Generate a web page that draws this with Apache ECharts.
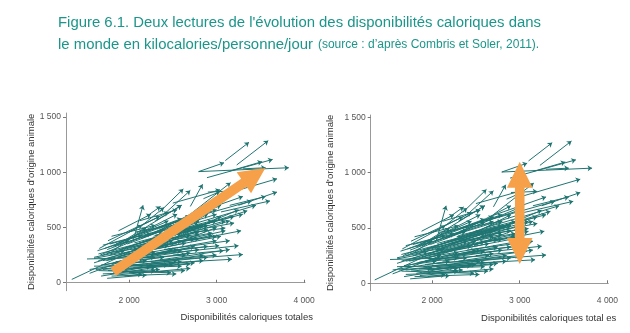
<!DOCTYPE html>
<html><head><meta charset="utf-8">
<script src="https://cdn.jsdelivr.net/npm/echarts@6/dist/echarts.min.js"></script>
<style>html,body{margin:0;padding:0;background:#fff}#c{width:630px;height:333px}</style>
</head><body><div id="c"></div>
<script>
// Arrows: [x1961, y1961, x2003, y2003] (kcal/pers/day: total, animal origin)
const arrows = [
  [3100,1105,3370,1270],[3230,1065,3590,1285],[2795,1005,3085,1085],[2795,1005,3825,1040],
  [2890,950,3640,1115],[3150,1010,3520,1095],[3300,1030,3560,1040],[3000,780,3690,940],
  [3250,700,3690,820],[3050,640,3610,740],[3150,700,3560,780],[2700,620,3160,905],
  [2700,690,2840,890],[2350,640,2620,848],[2400,620,2700,835],[2850,760,3040,825],
  [2050,390,2160,700],[2200,600,2360,690],[2300,560,2600,700],[2500,720,3040,840],
  [2900,820,3200,830],
  [2700,450,3100,495],[2600,380,3000,420],[2250,250,3250,335],[2050,180,3300,255],
  [2000,160,3175,212],[2400,350,3050,600],[2550,420,3250,660],[2450,430,3350,650],
  [2600,500,3450,700],[2300,430,2950,560],[2200,360,2900,520],[2550,300,3030,335],
  [2150,330,2800,460],
  [1700,80,2640,110],[1800,60,2540,80],[1650,110,2480,90],[1900,100,2350,120],
  [1750,40,2200,70],[1850,130,2600,150],[1600,150,2450,160],[2000,90,2300,110],
  [1950,60,2150,80],[1700,120,2000,140],
  [1346,30,2150,330],[1520,215,2300,230],[1670,250,2250,450],[1550,85,2100,250],
  [1600,180,2400,380],[1650,200,2700,430],[1700,250,2550,470],[1720,160,2300,280],
  [1750,300,2600,550],[1780,220,2650,360],[1800,280,2200,500],[1820,180,2500,300],
  [1850,350,2450,560],[1880,240,2750,400],[1900,300,2350,420],[1920,200,2800,300],
  [1950,380,2550,620],[1980,260,2450,340],[2000,320,2900,480],[2020,220,2650,250],
  [2050,420,2700,600],[2080,280,2500,380],[2100,350,2850,520],[2120,200,2700,270],
  [2150,450,2600,580],[2180,300,2950,430],[2200,250,2600,290],[2220,380,3000,560],
  [2250,180,2900,230],[2280,420,2750,500],[2300,330,3100,470],[2350,270,2900,330],
  [2400,200,2850,250],[2450,380,2950,450],[1700,340,2150,430],[1760,380,2350,600],
  [1800,420,2300,520],[1640,290,2000,380],[1900,150,2550,200],[1950,120,2700,170],
  [2050,140,2850,200],[1850,190,2400,230],[2100,240,2550,300],[2000,460,2450,640],
  [2150,520,2400,680],[1880,470,2250,620],[2250,480,2800,620],[2350,500,3000,660],
  [1750,270,2100,310],[1600,230,1950,290],[1680,160,2050,200],[2400,300,3150,380],
  [2500,250,3080,290],[1980,350,2380,470],[2200,150,2500,170],
  [1600,220,2800,400],[1650,260,2900,520],[1700,200,3000,380],[1720,310,2700,600],
  [1780,250,2600,450],[1820,330,3000,620],[1860,280,2800,560],[1900,360,2600,700],
  [1940,300,3100,560],[1960,230,2600,380],[2000,260,3050,420],[2040,300,2700,480],
  [2060,360,3200,600],[2100,300,2900,620],[2140,400,3050,700],[2180,420,2700,560],
  [2240,340,3150,560],[2260,440,2900,700],[2320,380,2800,440],[2380,420,3200,540],
  [2420,450,2800,520],[2480,340,3000,500],[2520,460,3300,620],[2600,560,3400,740],
  [2650,600,3300,780],[1550,120,2200,200],[1620,120,2600,190],[1680,60,2300,140],
  [1760,110,2750,180],[1820,90,2250,150],[1860,70,2700,130],[1920,170,3000,250],
  [2000,200,2750,330],[1740,200,2100,260],[1780,350,2400,480],[1660,310,2150,520],
  [2080,460,2800,560],[2120,560,2550,660],[2300,200,3150,300],[2700,380,3280,470]
];
// Big orange arrows (data coordinates)
const trendArrow = [[1820,100],[3557,1037]];
const spreadArrow = [[3000,174],[3000,1098]];

const xTickValues = [2000,3000,4000];
const xTickLabels = ['2 000','3 000','4 000'];
const yTickValues = [0,500,1000,1500];
const yTickLabels = ['0','500','1 000','1 500'];

const TEAL = '#1f7572', ORANGE = '#f6a04a', TITLE = '#1b968a';
const sans = '"Liberation Sans", Arial, sans-serif';

function xAxis(idx, min, max, name) {
  return {
    gridIndex: idx, type: 'value', min, max,
    name, nameLocation: 'end', nameGap: 8, nameMoveOverlap: false,
    nameTextStyle: {align: 'right', verticalAlign: 'top', padding: [30,0,0,0], fontFamily: sans, fontSize: 9.5, color: '#333'},
    axisLine: {show: true, lineStyle: {color: '#999', width: 1}},
    axisTick: {show: true, inside: true, length: 3, customValues: xTickValues, lineStyle: {color: '#777'}},
    axisLabel: {customValues: xTickValues, margin: 5, fontFamily: sans, fontSize: 8.5, color: '#555',
      formatter: v => xTickLabels[xTickValues.indexOf(v)]},
    splitLine: {show: false}
  };
}
function yAxis(idx, min, max, gap) {
  return {
    gridIndex: idx, type: 'value', min, max,
    name: "Disponibilités caloriques d’origine animale", nameLocation: 'middle', nameGap: gap, nameRotate: 90, nameMoveOverlap: false,
    nameTextStyle: {fontFamily: sans, fontSize: 9.5, color: '#333'},
    axisLine: {show: true, lineStyle: {color: '#999', width: 1}},
    axisTick: {show: true, length: 3, customValues: yTickValues, lineStyle: {color: '#777'}},
    axisLabel: {customValues: yTickValues, margin: 5, fontFamily: sans, fontSize: 8.5, color: '#555',
      formatter: v => yTickLabels[yTickValues.indexOf(v)]},
    splitLine: {show: false}
  };
}
function arrowSeries(idx) {
  return {
    type: 'lines', coordinateSystem: 'cartesian2d', xAxisIndex: idx, yAxisIndex: idx,
    polyline: false, symbol: ['none','arrow'], symbolSize: 4.5, silent: true, animation: false,
    lineStyle: {color: TEAL, width: 1, opacity: 1, curveness: 0},
    data: arrows.map(a => ({coords: [[a[0],a[1]],[a[2],a[3]]]}))
  };
}
function bigArrow(p0, p1, doubleHead) {
  const dx = p1[0]-p0[0], dy = p1[1]-p0[1];
  const L = Math.hypot(dx, dy), ux = dx/L, uy = dy/L, nx = -uy, ny = ux;
  const hw = 4.8, HW = 12.8, HL = 26;
  const pt = (s, w) => [p0[0]+ux*s+nx*w, p0[1]+uy*s+ny*w];
  if (!doubleHead) {
    return [pt(0,-hw), pt(L-HL,-hw), pt(L-HL,-HW), pt(L,0), pt(L-HL,HW), pt(L-HL,hw), pt(0,hw)];
  }
  return [pt(0,0), pt(HL,-HW), pt(HL,-hw), pt(L-HL,-hw), pt(L-HL,-HW), pt(L,0), pt(L-HL,HW), pt(L-HL,hw), pt(HL,hw), pt(HL,HW)];
}
function orangeSeries(idx, pts, dbl) {
  return {
    type: 'custom', xAxisIndex: idx, yAxisIndex: idx, silent: true, animation: false, clip: false, z: 10,
    data: [[pts[0][0], pts[0][1], pts[1][0], pts[1][1]]],
    renderItem: (params, api) => {
      const a = api.coord([api.value(0), api.value(1)]);
      const b = api.coord([api.value(2), api.value(3)]);
      return {type: 'polygon', shape: {points: bigArrow(a, b, dbl)}, style: {fill: ORANGE}};
    }
  };
}

const chart = echarts.init(document.getElementById('c'), null, {renderer: 'canvas'});
chart.setOption({
  backgroundColor: '#fff',
  animation: false,
  title: {
    left: 53, top: 7,
    text: "{a|Figure 6.1. Deux lectures de l'évolution des disponibilités caloriques dans}\n{a|le monde en kilocalories/personne/jour} {b|(source : d’après Combris et Soler, 2011).}",
    textStyle: {fontWeight: 'normal', rich: {
      a: {fontFamily: sans, fontSize: 14.9, fontWeight: 'normal', color: TITLE, lineHeight: 22},
      b: {fontFamily: sans, fontSize: 12, fontWeight: 'normal', color: TITLE, lineHeight: 22}
    }}
  },
  grid: [
    {left: 66, right: 325, top: 113, bottom: 42.3, containLabel: false, outerBoundsMode: 'none'},
    {left: 370.7, right: 21.7, top: 115, bottom: 42.3, containLabel: false, outerBoundsMode: 'none'}
  ],
  xAxis: [xAxis(0, 1280, 4010, 'Disponibilités caloriques totales'), xAxis(1, 1300, 4010, 'Disponibilités caloriques total es')],
  yAxis: [yAxis(0, -72, 1535, 30), yAxis(1, -67, 1520, 35)],
  series: [arrowSeries(0), arrowSeries(1), orangeSeries(0, trendArrow, false), orangeSeries(1, spreadArrow, true)]
});
</script></body></html>
